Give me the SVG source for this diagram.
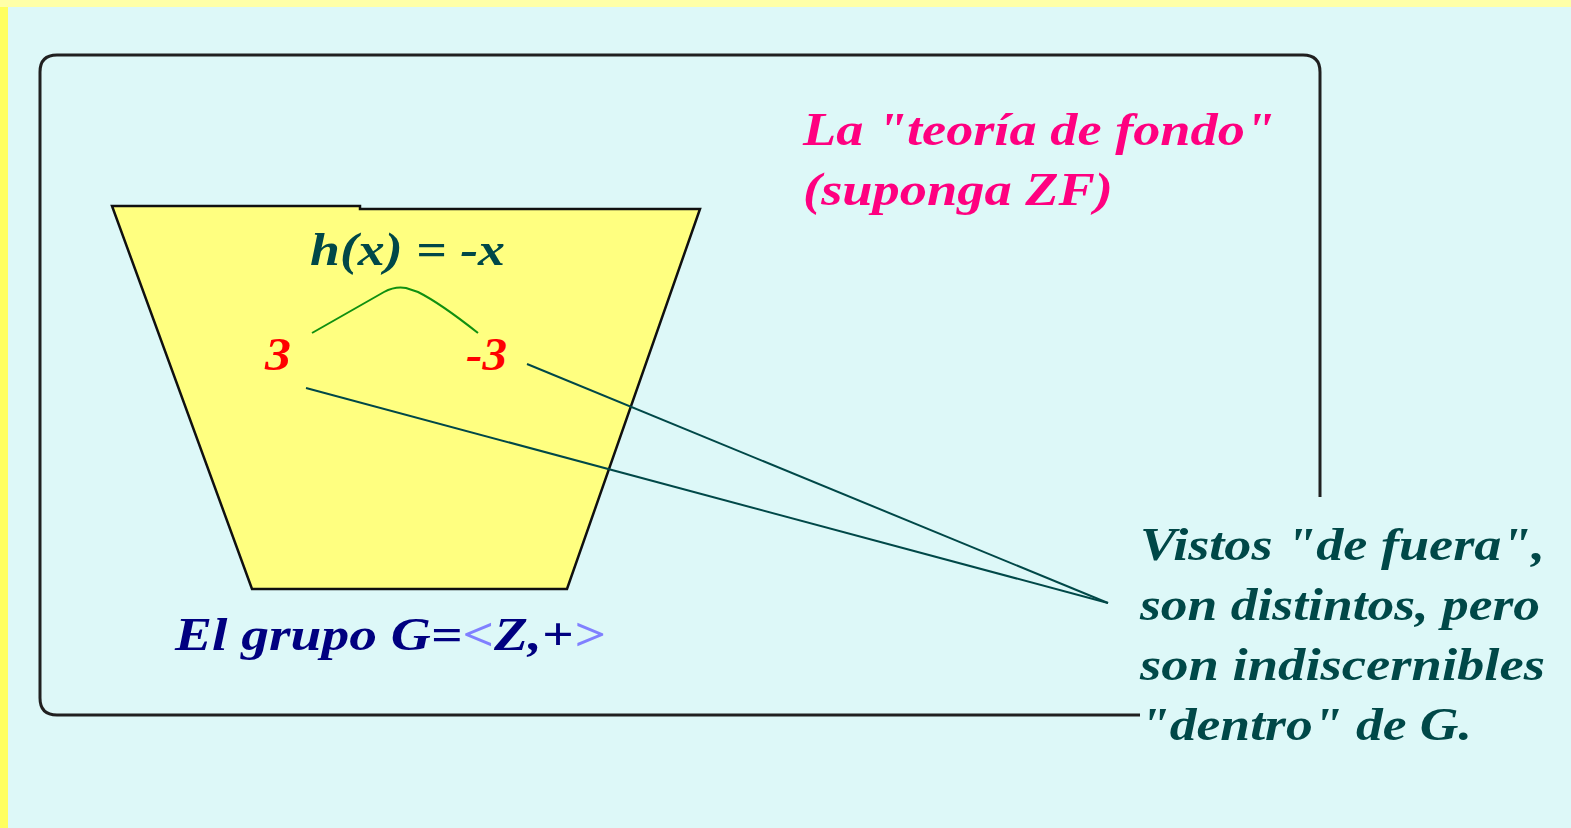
<svg xmlns="http://www.w3.org/2000/svg" width="1571" height="828" viewBox="0 0 1571 828">
<style>
.t{font-family:"Liberation Serif","Times New Roman",serif;font-weight:bold;font-style:italic;font-size:46px}
.teal{fill:#004848}
.mag{fill:#FF0080}
.red{fill:#FF0000}
.navy{fill:#000080}
.lav{fill:#8080FF}
.conn{stroke:#004848;stroke-width:2;fill:none}
</style>
<rect x="0" y="0" width="1571" height="828" fill="#FFFFA8"/>
<rect x="0" y="7" width="8" height="821" fill="#FFFF60"/>
<rect x="8" y="7" width="1563" height="821" fill="#DDF8F8"/>
<g id="frame">
<path d="M1320,497 L1320,72 Q1320,55 1303,55 L57,55 Q40,55 40,72 L40,698 Q40,715 57,715 L1140,715" fill="none" stroke="#202020" stroke-width="3"/>
</g>
<g id="group-G">
<polygon points="112,206 360,206 360,209 700,209 567,589 252,589" fill="#FFFF80" stroke="#101010" stroke-width="2.5"/>
<text class="t navy" x="175" y="650" textLength="430" lengthAdjust="spacingAndGlyphs">El grupo G=<tspan class="lav">&lt;</tspan>Z,+<tspan class="lav">&gt;</tspan></text>
</g>
<g id="title">
<text class="t mag" x="803" y="145" textLength="472" lengthAdjust="spacingAndGlyphs">La "teoría de fondo"</text>
<text class="t mag" x="803" y="205" textLength="310" lengthAdjust="spacingAndGlyphs">(suponga ZF)</text>
</g>
<g id="h-label">
<text class="t teal" x="310" y="265" textLength="195" lengthAdjust="spacingAndGlyphs">h(x) = -x</text>
</g>
<g id="n3">
<text class="t red" x="265" y="370" textLength="26" lengthAdjust="spacingAndGlyphs">3</text>
</g>
<g id="nm3">
<text class="t red" x="466" y="370" textLength="41" lengthAdjust="spacingAndGlyphs">-3</text>
</g>
<g id="note">
<text class="t teal" x="1140" y="560" textLength="405" lengthAdjust="spacingAndGlyphs">Vistos "de fuera",</text>
<text class="t teal" x="1140" y="620" textLength="400" lengthAdjust="spacingAndGlyphs">son distintos, pero</text>
<text class="t teal" x="1140" y="680" textLength="405" lengthAdjust="spacingAndGlyphs">son indiscernibles</text>
<text class="t teal" x="1140" y="740" textLength="332" lengthAdjust="spacingAndGlyphs">"dentro" de G.</text>
</g>
<g id="connectors">
<path d="M312,333 L384,292 Q395,286 406,288 L418,292 Q440,303 478,333" fill="none" stroke="#109010" stroke-width="2"/>
<line class="conn" x1="306" y1="388" x2="1108" y2="603"/>
<line class="conn" x1="527" y1="364" x2="1108" y2="603"/>
</g>
</svg>
